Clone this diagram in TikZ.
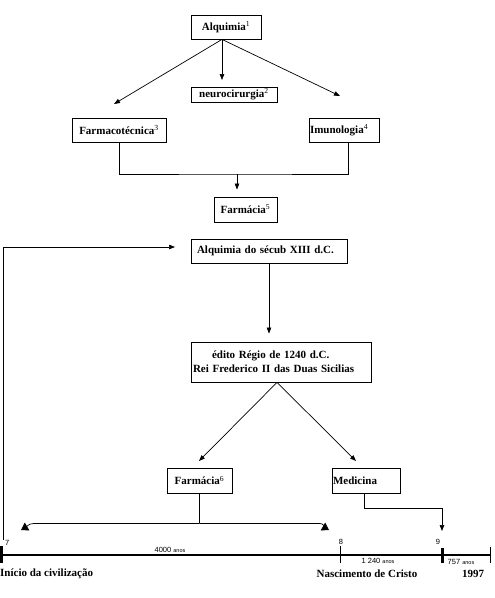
\documentclass[tikz,border=0pt]{standalone}
\usepackage{fontspec}
\setmainfont{Liberation Serif}
\setsansfont{Liberation Sans}
\usetikzlibrary{arrows.meta, positioning, calc}
\tikzset{
  block/.style={rectangle, draw=black, fill=white, line width=0.8pt,
    inner xsep=5pt, inner ysep=0pt, minimum height=24pt,
    font=\fontsize{11}{14}\selectfont\bfseries},
  arrow/.style={-{Triangle[length=6pt,width=4.5pt]}, line width=0.7pt},
  bigarrow/.style={-{Triangle[length=7pt,width=9pt]}, line width=0.7pt},
  line/.style={line width=0.7pt},
  num/.style={font=\sffamily\fontsize{7.5}{7.5}\selectfont, inner sep=0pt},
  yrs/.style={font=\sffamily\fontsize{7.5}{7.5}\selectfont, inner sep=0pt},
  era/.style={font=\fontsize{11}{12}\selectfont\bfseries, inner sep=0pt}
}
\newcommand{\idx}[1]{\textsuperscript{\mdseries #1}}
\newcommand{\anos}{{\fontsize{5.5}{5.5}\selectfont anos}}

\begin{document}
\begin{tikzpicture}[x=1pt, y=-1pt]
  \useasboundingbox (0,0) rectangle (495,598);

  % ── Upper tree ────────────────────────────────────────────────────────────
  \node[block, text width=62pt, inner xsep=4pt, align=center] (alq) at (226,27) {Alquimia\idx{1}};
  \node[block, text width=84pt, inner xsep=1pt, align=center, minimum height=15pt] (neuro) at (234,94.5) {neurocirurgia\idx{2}};
  \node[block, text width=90pt, inner xsep=2pt, align=center] (farmt) at (119,130) {Farmacotécnica\idx{3}};
  \node[block, text width=68pt, inner xsep=1pt, align=left] (imuno) at (344,130) {Imunologia\idx{4}};
  \node[block, text width=55pt, inner xsep=4pt, align=center, minimum height=25pt] (farm5) at (245.5,209.5) {Farmácia\idx{5}};

  % ── Middle column ─────────────────────────────────────────────────────────
  \node[block, text width=144pt, inner xsep=6pt, align=left] (alq13) at (269,251) {Alquimia do sécub XIII d.C.};
  \node[block, text width=176pt, inner xsep=2pt, align=left, minimum height=40pt] (edito) at (281,362)
       {\hspace*{19pt}édito Régio de 1240 d.C.\\Rei Frederico II das Duas Sicilias};
  \node[block, text width=57pt, inner xsep=4pt, align=center, minimum height=25pt] (farm6) at (199.5,480.5) {Farmácia\idx{6}};
  \node[block, text width=66pt, inner xsep=1pt, align=left, minimum height=25pt] (med) at (366,480.5) {Medicina};

  % ── Free arrow ends ───────────────────────────────────────────────────────
  \coordinate (aL) at (114,104);
  \coordinate (aM) at (222,80);
  \coordinate (aR) at (340,96);
  \coordinate (jn) at (237,174);
  \coordinate (lp) at (3,540);
  \coordinate (lq) at (175,247);
  \coordinate (eL) at (199,461);
  \coordinate (eR) at (356,461);
  \coordinate (tL) at (21,530);
  \coordinate (tR) at (329,530);
  \coordinate (t9) at (442,531);

  % ── Connections ───────────────────────────────────────────────────────────
  \draw[arrow] (alq.south -| aM) -- (aL);
  \draw[arrow] (alq.south -| aM) -- (aM);
  \draw[arrow] (alq.south -| aM) -- (aR);
  \draw[line] (farmt.south) |- (jn) -| ([xshift=4pt]imuno.south);
  \draw[arrow] (jn) -- ($(jn |- farm5.north)+(0,-7)$);
  \draw[arrow] (lp) |- (lq);
  \draw[arrow] (alq13.south) -- ($(alq13.south |- edito.north)+(0,-8)$);
  \draw[arrow] ($(edito.south)+(-4,0)$) -- (eL);
  \draw[arrow] ($(edito.south)+(-4,0)$) -- (eR);
  \path (farm6.south) ++(0,30) coordinate (fj);
  \draw[line] (farm6.south) -- (fj);
  \draw[bigarrow] (fj) -- ++(-165,0) to[out=180, in=30] (tL);
  \draw[bigarrow] (fj) -- ++(120,0) to[out=0, in=150] (tR);
  \draw[arrow] ($(med.south)+(-2,0)$) -- ++(0,15) -| (t9);

  % ── Time line ─────────────────────────────────────────────────────────────
  \coordinate (t0) at (0,555);
  \coordinate (tE) at (490,555);
  \draw[line width=2pt] (t0) -- (tE);
  \draw[line width=3pt] (1.5,546) -- (1.5,563);
  \draw[line width=1pt] (340,546) -- (340,563);
  \draw[line width=3pt] (442,548) -- (442,563);
  \draw[line width=1pt] (490,547) -- (490,563);

  \node[num, anchor=west] (n7) at (5,543) {7};
  \node[num] (n8) at (341,542) {8};
  \node[num] (n9) at (438,542) {9};
  \node[yrs] (y1) at (170,550) {4000 \anos};
  \node[yrs] (y2) at (378,561) {1 240 \anos};
  \node[yrs] (y3) at (461,562) {757 \anos};

  \node[era, anchor=west] (e1) at (0,574) {Início da civilização};
  \node[era] (e2) at (367,574) {Nascimento de Cristo};
  \node[era] (e3) at (473,574) {1997};

\end{tikzpicture}
\end{document}
